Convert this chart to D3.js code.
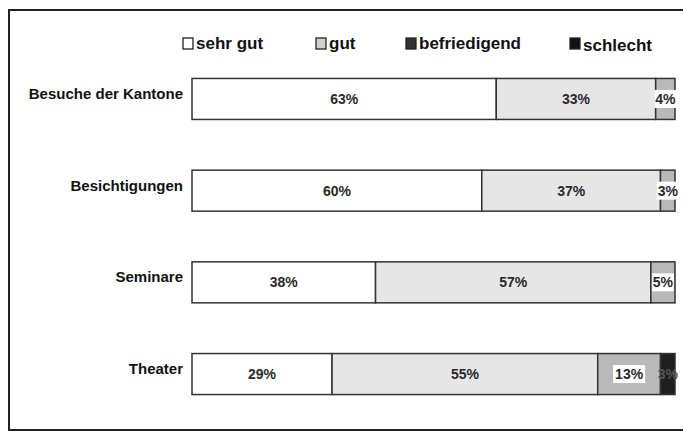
<!DOCTYPE html>
<html><head><meta charset="utf-8">
<script src="https://cdn.jsdelivr.net/npm/d3@7"></script>
<style>body{margin:0;background:#fff;} svg{display:block;font-family:"Liberation Sans",Arial,sans-serif;}</style>
</head><body>
<svg id="c" width="683" height="435"></svg>
<script>
const categories = ["Besuche der Kantone","Besichtigungen","Seminare","Theater"];
const seriesNames = ["sehr gut","gut","befriedigend","schlecht"];
const sehrGut = [63,60,38,29];
const gut = [33,37,57,55];
const befriedigend = [4,3,5,13];
const schlecht = [0,0,0,3];
const colors = ["#ffffff","#e6e6e6","#b9b9b9","#1e1e1e"];

const svg = d3.select("#c");
// frame
svg.append("path").attr("d","M683,10 L9,10 L9,430 L683,430").attr("fill","none").attr("stroke","#222").attr("stroke-width",2);

const x = d3.scaleLinear().domain([0,100]).range([192,675]);
const y = d3.scaleBand().domain(categories).range([32.6,440.4]).paddingInner(0.553).paddingOuter(0.5);

const seriesVals = [sehrGut,gut,befriedigend,schlecht];
const rows = categories.map((c,i)=>{
  let acc=0; return seriesVals.map((s,k)=>{const d={cat:c,k,v:s[i],x0:acc,x1:acc+s[i]};acc+=s[i];return d;}).filter(d=>d.v>0);
});
const g = svg.append("g");
rows.forEach(r=>{
  const rg = g.append("g");
  rg.selectAll("rect").data(r).join("rect")
    .attr("x",d=>x(d.x0)).attr("y",d=>y(d.cat)).attr("width",d=>x(d.x1)-x(d.x0)).attr("height",y.bandwidth())
    .attr("fill",d=>colors[d.k]).attr("stroke","#333").attr("stroke-width",1.5);
  r.forEach(d=>{
    const cx=(x(d.x0)+x(d.x1))/2, cy=y(d.cat)+y.bandwidth()/2;
    if(d.k==2){
      const w = d.v>=10?32:22;
      rg.append("rect").attr("x",cx-w/2).attr("y",cy-9).attr("width",w).attr("height",18).attr("fill","#fff");
    }
    rg.append("text").attr("x",cx).attr("y",cy+5).attr("text-anchor","middle")
      .attr("font-size",14).attr("font-weight","bold").attr("fill",d.k==3?"#555":"#2a2a2a").text(d.v+"%");
  });
});
// category labels
svg.append("g").selectAll("text").data(categories).join("text")
  .attr("x",183).attr("y",d=>y(d)+y.bandwidth()/2).attr("text-anchor","end")
  .attr("font-size",15).attr("font-weight","bold").attr("fill","#111").text(d=>d);

// legend
const legX = [183,316,406,570];
const lg = svg.append("g");
seriesNames.forEach((n,i)=>{
  lg.append("rect").attr("x",legX[i]).attr("y",38).attr("width",10).attr("height",11)
    .attr("fill",i==0?"#fff":(i==1?"#d0d0d0":(i==2?"#333":"#111"))).attr("stroke","#222").attr("stroke-width",1.3);
  lg.append("text").attr("x",legX[i]+13).attr("y",i==3?51:49).attr("font-size",17).attr("font-weight","bold").attr("fill","#111").text(n);
});
</script>
</body></html>
